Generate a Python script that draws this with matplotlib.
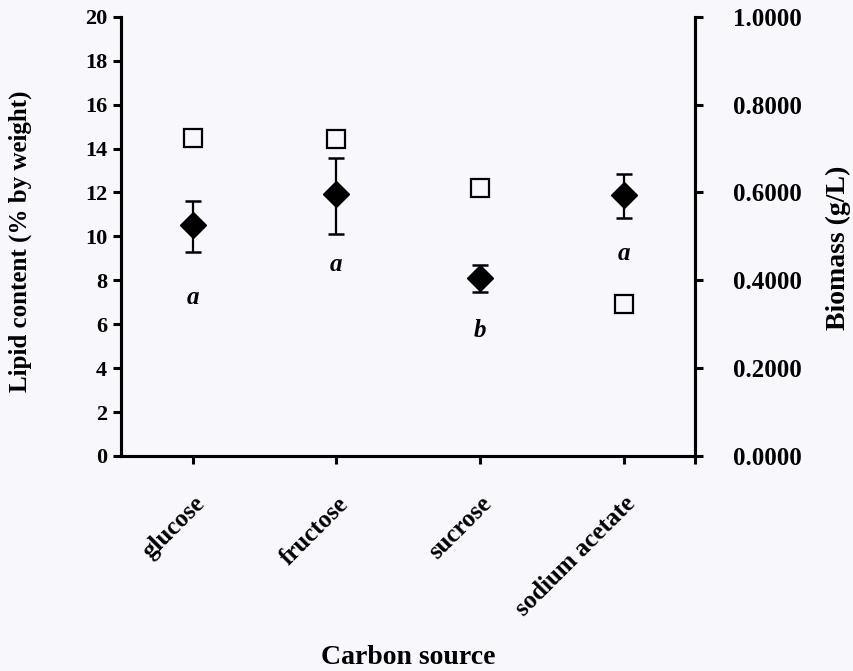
import matplotlib
matplotlib.use("Agg")
import matplotlib.pyplot as plt
import numpy as np

categories = ["glucose", "fructose", "sucrose", "sodium acetate"]
lipid = [10.5, 11.95, 8.1, 11.9]
lipid_err_low = [1.2, 1.85, 0.65, 1.05]
lipid_err_high = [1.1, 1.6, 0.6, 0.95]
biomass = [0.724, 0.722, 0.611, 0.345]
letters = ["a", "a", "b", "a"]
letter_y = [7.2, 8.7, 5.7, 9.2]
left_ticks = [0, 2, 4, 6, 8, 10, 12, 14, 16, 18, 20]
right_ticks = [0.0, 0.2, 0.4, 0.6, 0.8, 1.0]

bg = "#f8f7fc"
plt.rcParams["font.family"] = ["Liberation Serif", "DejaVu Serif"]
plt.rcParams["font.weight"] = "bold"

fig = plt.figure(figsize=(8.54, 6.71), dpi=100, facecolor=bg)
ax = fig.add_axes([0.1417, 0.3205, 0.6725, 0.6545])
ax.set_facecolor(bg)
ax2 = ax.twinx()

x = np.arange(len(categories))
ax.errorbar(x, lipid, yerr=[lipid_err_low, lipid_err_high], fmt="D", color="black",
            markersize=13, ecolor="black", elinewidth=1.6, capsize=6, capthick=1.8, zorder=3)
ax2.plot(x, biomass, "s", markersize=13.5, markerfacecolor="none", markeredgecolor="black",
         markeredgewidth=1.6, linestyle="none")

for xi, yi, t in zip(x, letter_y, letters):
    ax.text(xi, yi, t, ha="center", va="center", fontsize=18, fontstyle="italic",
            fontweight="bold")

ax.set_xlim(-0.5, len(categories) - 0.5)
ax.set_ylim(0, 20)
ax2.set_ylim(0, 1)
ax.set_yticks(left_ticks)
ax.set_yticklabels([str(v) for v in left_ticks], fontsize=16, fontweight="bold")
ax2.set_yticks(right_ticks)
ax2.set_yticklabels(["%.4f" % v for v in right_ticks], fontsize=18, fontweight="bold")
ax.set_xticks(x)
ax.set_xticklabels(categories, rotation=45, ha="right", rotation_mode="anchor",
                   fontsize=18, fontweight="bold")
ax.set_xticks([len(categories) - 0.5], minor=True)

for a in (ax, ax2):
    a.spines["top"].set_visible(False)
    for s in ("left", "right", "bottom"):
        a.spines[s].set_linewidth(2.2)
ax.tick_params(axis="y", direction="out", length=6, width=2.2, pad=4)
ax.tick_params(axis="x", which="both", direction="out", length=6, width=2.2, pad=20)
ax2.tick_params(axis="y", direction="out", length=6, width=2.2, pad=21)

ax.set_ylabel("Lipid content (% by weight)", fontsize=18, fontweight="bold")
ax.yaxis.set_label_coords(-0.176, 0.49)
ax2.set_ylabel("Biomass (g/L)", fontsize=20, fontweight="bold")
ax2.yaxis.set_label_coords(1.249, 0.475)
ax.set_xlabel("Carbon source", fontsize=20, fontweight="bold")
ax.xaxis.set_label_coords(0.5, -0.459)
ax.xaxis.label.set_va("center")
ax.yaxis.label.set_va("center")
ax2.yaxis.label.set_va("center")

fig.savefig("out.png", dpi=100, facecolor=bg)
